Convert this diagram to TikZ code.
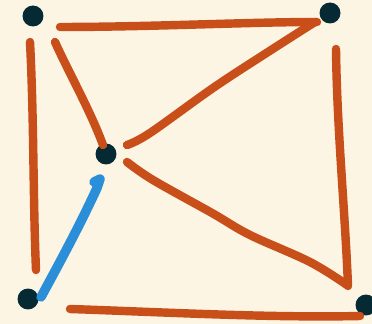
\documentclass[tikz,border=0pt]{standalone}
\usetikzlibrary{positioning}
\definecolor{paper}{HTML}{FDF5E3}
\definecolor{inkdot}{HTML}{062A33}
\definecolor{rust}{HTML}{C94F1A}
\definecolor{skyblue}{HTML}{2A8FD8}

\begin{document}
\begin{tikzpicture}[
    x=0.02cm, y=-0.02cm,
    vertex/.style={circle, fill=inkdot, inner sep=0pt, minimum size=0.42cm},
    stroke/.style={rust, line width=4.8pt, line cap=round, line join=round},
    bluestroke/.style={stroke, skyblue, line width=5.4pt},
  ]

  % Background
  \fill[paper] (0,0) rectangle (372,324);
  \useasboundingbox (0,0) rectangle (372,324);

  % === Vertices ===
  \node[vertex] (tl) at (33,16) {};
  \node[vertex] (tr) at (330,13) {};
  \node[vertex] (mid) at (106,154) {};
  \node[vertex] (bl) at (28,299) {};
  \node[vertex] (br) at (366,305) {};

  % Stroke ends (hand drawn, they stop short of the dots)
  \coordinate (topA) at (60,27);
  \coordinate (topB) at (317,22);
  \coordinate (leftA) at (30,42);
  \coordinate (leftB) at (36,270);
  \coordinate (diagA) at (55,42);
  \coordinate (diagB) at (103,145);
  \coordinate (upA) at (315,22);
  \coordinate (upB) at (127,145);
  \coordinate (lowA) at (127,162);
  \coordinate (lowB) at (347,285);
  \coordinate (rightA) at (336,49);
  \coordinate (rightB) at (348,286);
  \coordinate (botA) at (70,309);
  \coordinate (botB) at (360,316);
  \coordinate (blueA) at (94,182);
  \coordinate (blueB) at (41,297);

  % === Orange edges ===
  \draw[stroke] (topA) .. controls (150,27) and (250,22) .. (topB);
  \draw[stroke] (leftA) .. controls (34,120) and (33,200) .. (leftB);
  \draw[stroke] (diagA) .. controls (70,75) and (90,110) .. (diagB);
  \draw[stroke] plot[smooth, tension=0.6] coordinates
    {(upA) (268,52) (213,88) (150,133) (upB)};
  \draw[stroke] plot[smooth, tension=0.6] coordinates
    {(lowA) (153,180) (212,213) (250,235) (310,262) (lowB)};
  \draw[stroke] (rightA) .. controls (337,130) and (345,210) .. (rightB);
  \draw[stroke] (botA) .. controls (160,312) and (270,318) .. (botB);

  % === Blue edge ===
  \draw[bluestroke] (blueA) -- (100,179) -- (97,188)
    .. controls (80,225) and (60,262) .. (blueB);

\end{tikzpicture}
\end{document}
